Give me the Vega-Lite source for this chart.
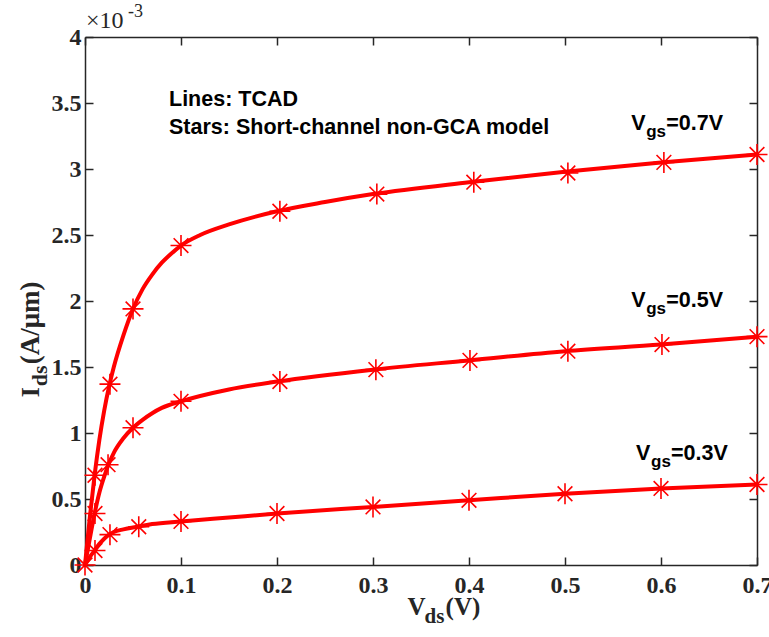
{
  "$schema": "https://vega.github.io/schema/vega-lite/v6.json",
  "width": 672,
  "height": 528,
  "autosize": {"type": "none"},
  "padding": {"left": 85, "top": 37, "right": 12, "bottom": 72},
  "background": "white",
  "config": {"view": {"stroke": null}},
  "datasets": {
    "lines": [
      {"vgs": "0.7", "vds": 0, "ids": 0},
      {"vgs": "0.7", "vds": 0.005, "ids": 0.36},
      {"vgs": "0.7", "vds": 0.01, "ids": 0.68},
      {"vgs": "0.7", "vds": 0.015, "ids": 0.95},
      {"vgs": "0.7", "vds": 0.02, "ids": 1.17},
      {"vgs": "0.7", "vds": 0.025, "ids": 1.35},
      {"vgs": "0.7", "vds": 0.03, "ids": 1.5},
      {"vgs": "0.7", "vds": 0.04, "ids": 1.74},
      {"vgs": "0.7", "vds": 0.05, "ids": 1.94},
      {"vgs": "0.7", "vds": 0.06, "ids": 2.09},
      {"vgs": "0.7", "vds": 0.07, "ids": 2.2},
      {"vgs": "0.7", "vds": 0.08, "ids": 2.29},
      {"vgs": "0.7", "vds": 0.09, "ids": 2.36},
      {"vgs": "0.7", "vds": 0.1, "ids": 2.42},
      {"vgs": "0.7", "vds": 0.12, "ids": 2.5},
      {"vgs": "0.7", "vds": 0.15, "ids": 2.58},
      {"vgs": "0.7", "vds": 0.2, "ids": 2.68},
      {"vgs": "0.7", "vds": 0.25, "ids": 2.75},
      {"vgs": "0.7", "vds": 0.3, "ids": 2.81},
      {"vgs": "0.7", "vds": 0.4, "ids": 2.9},
      {"vgs": "0.7", "vds": 0.5, "ids": 2.98},
      {"vgs": "0.7", "vds": 0.6, "ids": 3.05},
      {"vgs": "0.7", "vds": 0.7, "ids": 3.11},
      {"vgs": "0.5", "vds": 0, "ids": 0},
      {"vgs": "0.5", "vds": 0.005, "ids": 0.2},
      {"vgs": "0.5", "vds": 0.01, "ids": 0.39},
      {"vgs": "0.5", "vds": 0.015, "ids": 0.55},
      {"vgs": "0.5", "vds": 0.02, "ids": 0.67},
      {"vgs": "0.5", "vds": 0.025, "ids": 0.77},
      {"vgs": "0.5", "vds": 0.03, "ids": 0.85},
      {"vgs": "0.5", "vds": 0.04, "ids": 0.96},
      {"vgs": "0.5", "vds": 0.05, "ids": 1.04},
      {"vgs": "0.5", "vds": 0.06, "ids": 1.1},
      {"vgs": "0.5", "vds": 0.07, "ids": 1.15},
      {"vgs": "0.5", "vds": 0.08, "ids": 1.19},
      {"vgs": "0.5", "vds": 0.1, "ids": 1.24},
      {"vgs": "0.5", "vds": 0.15, "ids": 1.33},
      {"vgs": "0.5", "vds": 0.2, "ids": 1.39},
      {"vgs": "0.5", "vds": 0.3, "ids": 1.48},
      {"vgs": "0.5", "vds": 0.4, "ids": 1.55},
      {"vgs": "0.5", "vds": 0.5, "ids": 1.62},
      {"vgs": "0.5", "vds": 0.6, "ids": 1.67},
      {"vgs": "0.5", "vds": 0.7, "ids": 1.73},
      {"vgs": "0.3", "vds": 0, "ids": 0},
      {"vgs": "0.3", "vds": 0.005, "ids": 0.06},
      {"vgs": "0.3", "vds": 0.01, "ids": 0.11},
      {"vgs": "0.3", "vds": 0.015, "ids": 0.16},
      {"vgs": "0.3", "vds": 0.02, "ids": 0.2},
      {"vgs": "0.3", "vds": 0.025, "ids": 0.23},
      {"vgs": "0.3", "vds": 0.03, "ids": 0.25},
      {"vgs": "0.3", "vds": 0.04, "ids": 0.27},
      {"vgs": "0.3", "vds": 0.055, "ids": 0.29},
      {"vgs": "0.3", "vds": 0.07, "ids": 0.31},
      {"vgs": "0.3", "vds": 0.1, "ids": 0.33},
      {"vgs": "0.3", "vds": 0.15, "ids": 0.36},
      {"vgs": "0.3", "vds": 0.2, "ids": 0.39},
      {"vgs": "0.3", "vds": 0.3, "ids": 0.44},
      {"vgs": "0.3", "vds": 0.4, "ids": 0.49},
      {"vgs": "0.3", "vds": 0.5, "ids": 0.54},
      {"vgs": "0.3", "vds": 0.6, "ids": 0.58},
      {"vgs": "0.3", "vds": 0.7, "ids": 0.61}
    ],
    "stars": [
      {"vgs": "0.7", "vds": 0, "ids": 0},
      {"vgs": "0.7", "vds": 0.0104, "ids": 0.68},
      {"vgs": "0.7", "vds": 0.026, "ids": 1.37},
      {"vgs": "0.7", "vds": 0.05, "ids": 1.94},
      {"vgs": "0.7", "vds": 0.1, "ids": 2.42},
      {"vgs": "0.7", "vds": 0.203, "ids": 2.68},
      {"vgs": "0.7", "vds": 0.304, "ids": 2.81},
      {"vgs": "0.7", "vds": 0.405, "ids": 2.9},
      {"vgs": "0.7", "vds": 0.503, "ids": 2.97},
      {"vgs": "0.7", "vds": 0.603, "ids": 3.05},
      {"vgs": "0.7", "vds": 0.7, "ids": 3.11},
      {"vgs": "0.5", "vds": 0.0104, "ids": 0.39},
      {"vgs": "0.5", "vds": 0.024, "ids": 0.76},
      {"vgs": "0.5", "vds": 0.05, "ids": 1.04},
      {"vgs": "0.5", "vds": 0.1, "ids": 1.24},
      {"vgs": "0.5", "vds": 0.203, "ids": 1.39},
      {"vgs": "0.5", "vds": 0.303, "ids": 1.48},
      {"vgs": "0.5", "vds": 0.401, "ids": 1.55},
      {"vgs": "0.5", "vds": 0.503, "ids": 1.62},
      {"vgs": "0.5", "vds": 0.601, "ids": 1.67},
      {"vgs": "0.5", "vds": 0.7, "ids": 1.73},
      {"vgs": "0.3", "vds": 0.0104, "ids": 0.11},
      {"vgs": "0.3", "vds": 0.026, "ids": 0.23},
      {"vgs": "0.3", "vds": 0.056, "ids": 0.29},
      {"vgs": "0.3", "vds": 0.1, "ids": 0.33},
      {"vgs": "0.3", "vds": 0.2, "ids": 0.39},
      {"vgs": "0.3", "vds": 0.3, "ids": 0.44},
      {"vgs": "0.3", "vds": 0.4, "ids": 0.49},
      {"vgs": "0.3", "vds": 0.5, "ids": 0.54},
      {"vgs": "0.3", "vds": 0.6, "ids": 0.58},
      {"vgs": "0.3", "vds": 0.7, "ids": 0.61}
    ],
    "notes": [
      {"vds": 0.0875, "ids": 3.52, "text": "Lines: TCAD"},
      {"vds": 0.0875, "ids": 3.31, "text": "Stars: Short-channel non-GCA model"}
    ],
    "vlabels": [
      {"vds": 0.569, "ids": 3.295, "v": "V", "sub": "gs", "rest": "=0.7V"},
      {"vds": 0.569, "ids": 1.955, "v": "V", "sub": "gs", "rest": "=0.5V"},
      {"vds": 0.574, "ids": 0.795, "v": "V", "sub": "gs", "rest": "=0.3V"}
    ],
    "xtitle": [{"vds": 0.336, "ids": -0.38, "v": "V", "sub": "ds", "rest": "(V)"}],
    "ytitle": [{"vds": -0.048, "ids": 1.27, "v": "I", "sub": "ds", "rest": "(A/μm)"}],
    "expo": [{"vds": 0.001, "ids": 4.07, "v": "×10", "sup": "-3"}]
  },
  "resolve": {"axis": {"x": "independent", "y": "independent"}},
  "layer": [
    {
      "data": {"name": "lines"},
      "mark": {"type": "line", "color": "#ff0000", "strokeWidth": 4, "interpolate": "monotone"},
      "encoding": {
        "x": {
          "field": "vds", "type": "quantitative",
          "scale": {"domain": [0, 0.7], "nice": false, "zero": false},
          "axis": {
            "orient": "bottom", "values": [0, 0.1, 0.2, 0.3, 0.4, 0.5, 0.6, 0.7],
            "labelExpr": "format(datum.value, '~g')",
            "title": null, "grid": false,
            "domainColor": "#262626", "domainWidth": 1.5,
            "tickColor": "#262626", "tickWidth": 1.5, "tickSize": -8,
            "labelFont": "Liberation Serif", "labelFontWeight": "bold", "labelFontSize": 24,
            "labelColor": "#262626", "labelPadding": 16, "labelFlush": false
          }
        },
        "y": {
          "field": "ids", "type": "quantitative",
          "scale": {"domain": [0, 4], "nice": false, "zero": false},
          "axis": {
            "orient": "left", "values": [0, 0.5, 1, 1.5, 2, 2.5, 3, 3.5, 4],
            "labelExpr": "format(datum.value, '~g')",
            "title": null, "grid": false,
            "domainColor": "#262626", "domainWidth": 1.5,
            "tickColor": "#262626", "tickWidth": 1.5, "tickSize": -8,
            "labelFont": "Liberation Serif", "labelFontWeight": "bold", "labelFontSize": 24,
            "labelColor": "#262626", "labelPadding": 12, "labelFlush": false
          }
        },
        "detail": {"field": "vgs"}
      }
    },
    {
      "data": {"name": "stars"},
      "mark": {"type": "point", "shape": "M-1,0L1,0M0,-1L0,1M-0.7,-0.7L0.7,0.7M-0.7,0.7L0.7,-0.7", "size": 441, "filled": false, "stroke": "#ff0000", "strokeWidth": 1.6, "opacity": 1, "clip": false},
      "encoding": {
        "x": {
          "field": "vds", "type": "quantitative",
          "axis": {
            "orient": "top", "values": [0, 0.1, 0.2, 0.3, 0.4, 0.5, 0.6, 0.7],
            "labels": false, "title": null, "grid": false,
            "domainColor": "#262626", "domainWidth": 1.5,
            "tickColor": "#262626", "tickWidth": 1.5, "tickSize": -8
          }
        },
        "y": {
          "field": "ids", "type": "quantitative",
          "axis": {
            "orient": "right", "values": [0, 0.5, 1, 1.5, 2, 2.5, 3, 3.5, 4],
            "labels": false, "title": null, "grid": false,
            "domainColor": "#262626", "domainWidth": 1.5,
            "tickColor": "#262626", "tickWidth": 1.5, "tickSize": -8
          }
        }
      }
    },
    {
      "data": {"name": "notes"},
      "mark": {"type": "text", "align": "left", "baseline": "middle", "font": "Liberation Sans", "fontWeight": "bold", "fontSize": 21.5, "color": "#000000"},
      "encoding": {
        "x": {"field": "vds", "type": "quantitative", "axis": null},
        "y": {"field": "ids", "type": "quantitative", "axis": null},
        "text": {"field": "text"}
      }
    },
    {
      "data": {"name": "vlabels"},
      "mark": {"type": "text", "align": "left", "baseline": "alphabetic", "font": "Liberation Sans", "fontWeight": "bold", "fontSize": 21.5, "color": "#000000"},
      "encoding": {
        "x": {"field": "vds", "type": "quantitative", "axis": null},
        "y": {"field": "ids", "type": "quantitative", "axis": null},
        "text": {"field": "v"}
      }
    },
    {
      "data": {"name": "vlabels"},
      "mark": {"type": "text", "align": "left", "baseline": "alphabetic", "font": "Liberation Sans", "fontWeight": "bold", "fontSize": 17, "color": "#000000", "dx": 15, "dy": 7},
      "encoding": {
        "x": {"field": "vds", "type": "quantitative", "axis": null},
        "y": {"field": "ids", "type": "quantitative", "axis": null},
        "text": {"field": "sub"}
      }
    },
    {
      "data": {"name": "vlabels"},
      "mark": {"type": "text", "align": "left", "baseline": "alphabetic", "font": "Liberation Sans", "fontWeight": "bold", "fontSize": 21.5, "color": "#000000", "dx": 35},
      "encoding": {
        "x": {"field": "vds", "type": "quantitative", "axis": null},
        "y": {"field": "ids", "type": "quantitative", "axis": null},
        "text": {"field": "rest"}
      }
    },
    {
      "data": {"name": "xtitle"},
      "mark": {"type": "text", "align": "left", "baseline": "alphabetic", "font": "Liberation Serif", "fontWeight": "bold", "fontSize": 25, "color": "#262626"},
      "encoding": {
        "x": {"field": "vds", "type": "quantitative", "axis": null},
        "y": {"field": "ids", "type": "quantitative", "axis": null},
        "text": {"field": "v"}
      }
    },
    {
      "data": {"name": "xtitle"},
      "mark": {"type": "text", "align": "left", "baseline": "alphabetic", "font": "Liberation Serif", "fontWeight": "bold", "fontSize": 21, "color": "#262626", "dx": 17, "dy": 8},
      "encoding": {
        "x": {"field": "vds", "type": "quantitative", "axis": null},
        "y": {"field": "ids", "type": "quantitative", "axis": null},
        "text": {"field": "sub"}
      }
    },
    {
      "data": {"name": "xtitle"},
      "mark": {"type": "text", "align": "left", "baseline": "alphabetic", "font": "Liberation Serif", "fontWeight": "bold", "fontSize": 25, "color": "#262626", "dx": 38},
      "encoding": {
        "x": {"field": "vds", "type": "quantitative", "axis": null},
        "y": {"field": "ids", "type": "quantitative", "axis": null},
        "text": {"field": "rest"}
      }
    },
    {
      "data": {"name": "ytitle"},
      "mark": {"type": "text", "align": "left", "baseline": "alphabetic", "angle": 270, "font": "Liberation Serif", "fontWeight": "bold", "fontSize": 26, "color": "#262626"},
      "encoding": {
        "x": {"field": "vds", "type": "quantitative", "axis": null},
        "y": {"field": "ids", "type": "quantitative", "axis": null},
        "text": {"field": "v"}
      }
    },
    {
      "data": {"name": "ytitle"},
      "mark": {"type": "text", "align": "left", "baseline": "alphabetic", "angle": 270, "font": "Liberation Serif", "fontWeight": "bold", "fontSize": 22, "color": "#262626", "dx": 11, "dy": 8},
      "encoding": {
        "x": {"field": "vds", "type": "quantitative", "axis": null},
        "y": {"field": "ids", "type": "quantitative", "axis": null},
        "text": {"field": "sub"}
      }
    },
    {
      "data": {"name": "ytitle"},
      "mark": {"type": "text", "align": "left", "baseline": "alphabetic", "angle": 270, "font": "Liberation Serif", "fontWeight": "bold", "fontSize": 27, "color": "#262626", "dx": 33},
      "encoding": {
        "x": {"field": "vds", "type": "quantitative", "axis": null},
        "y": {"field": "ids", "type": "quantitative", "axis": null},
        "text": {"field": "rest"}
      }
    },
    {
      "data": {"name": "expo"},
      "mark": {"type": "text", "align": "left", "baseline": "alphabetic", "font": "Liberation Serif", "fontSize": 24, "color": "#262626"},
      "encoding": {
        "x": {"field": "vds", "type": "quantitative", "axis": null},
        "y": {"field": "ids", "type": "quantitative", "axis": null},
        "text": {"field": "v"}
      }
    },
    {
      "data": {"name": "expo"},
      "mark": {"type": "text", "align": "left", "baseline": "alphabetic", "font": "Liberation Serif", "fontSize": 18, "color": "#262626", "dx": 42, "dy": -11},
      "encoding": {
        "x": {"field": "vds", "type": "quantitative", "axis": null},
        "y": {"field": "ids", "type": "quantitative", "axis": null},
        "text": {"field": "sup"}
      }
    }
  ]
}
